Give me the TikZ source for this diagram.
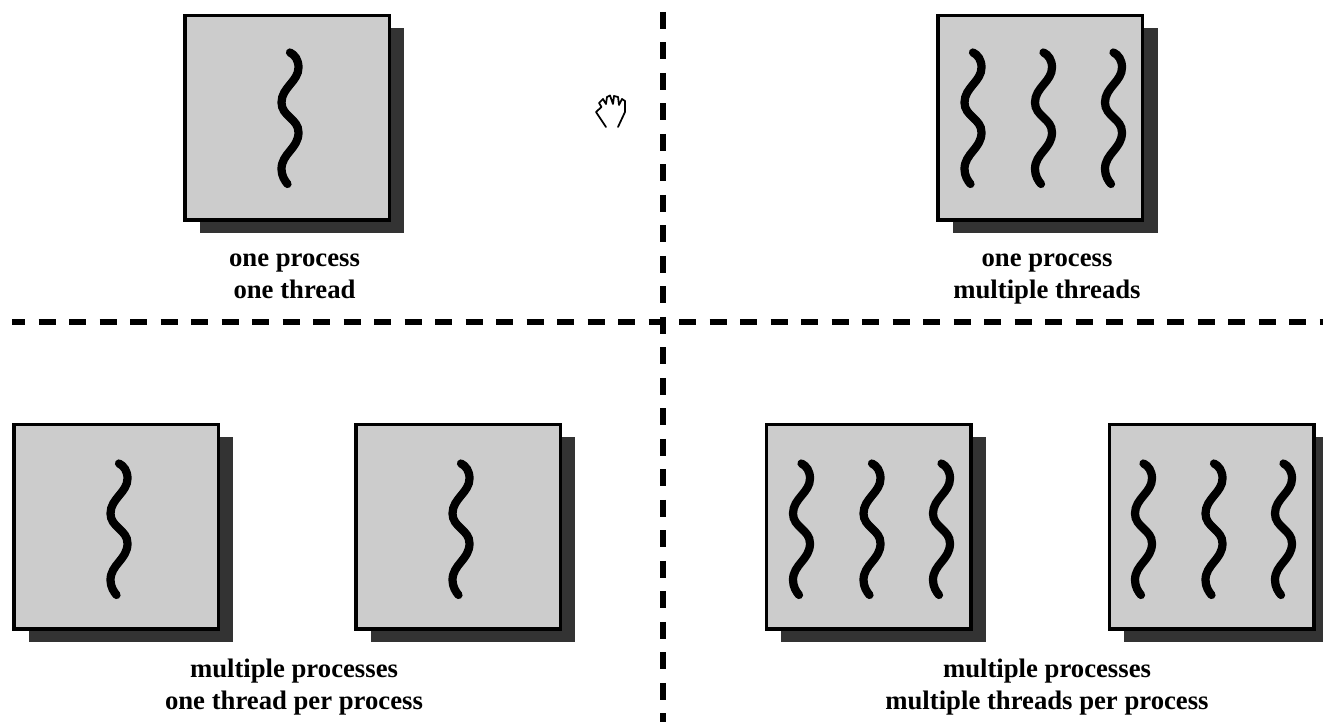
\documentclass[tikz,border=0pt]{standalone}
\usepackage{fontspec}
\setmainfont{Liberation Serif}
\usepackage{xcolor}
\usetikzlibrary{shadows}
\definecolor{boxgray}{HTML}{CCCCCC}
\definecolor{shadowgray}{HTML}{333333}
\tikzset{
  processbox/.style={draw=black,line width=0.07cm,fill=boxgray,minimum size=4.09cm,inner sep=0,
    drop shadow={shadow xshift=0.3cm,shadow yshift=-0.25cm,opacity=1,fill=shadowgray}},
  caption/.style={font=\fontsize{15.2}{18.2}\selectfont\bfseries,align=center},
  divider/.style={line width=0.11cm,dash pattern=on 0.34cm off 0.27cm},
  threadwave/.pic={
    \draw[line width=0.165cm,line cap=round] (0,1.3) .. controls (0.1,1.25) and (0.17,1.15) .. (0.17,1)
      .. controls (0.17,0.72) and (-0.17,0.6) .. (-0.17,0.3)
      .. controls (-0.17,0.02) and (0.17,-0.02) .. (0.17,-0.3)
      .. controls (0.17,-0.62) and (-0.17,-0.72) .. (-0.17,-1.03)
      .. controls (-0.17,-1.17) and (-0.1,-1.27) .. (-0.05,-1.33);
  }
}
\begin{document}
\begin{tikzpicture}
    \useasboundingbox (0,0) rectangle (26.46,14.44);
    \coordinate (hstart) at (0.24,8);
    \coordinate (hend) at (26.46,8);
    \coordinate (vstart) at (13.26,14.2);
    \coordinate (vend) at (13.26,0);
    \draw[divider,dash phase=0.08cm] (hstart) -- (hend);
    \draw[divider] (vstart) -- (vend);
    \node[processbox] (boxa) at (5.744,12.08) {};
    \node[processbox] (boxb) at (20.806,12.08) {};
    \node[processbox] (boxc) at (2.324,3.9) {};
    \node[processbox] (boxd) at (9.164,3.9) {};
    \node[processbox] (boxe) at (17.37,3.9) {};
    \node[processbox] (boxf) at (24.23,3.9) {};
    \pic at (5.8,12.09) {threadwave};
    \pic at (19.46,12.09) {threadwave};
    \pic at (20.87,12.09) {threadwave};
    \pic at (22.27,12.09) {threadwave};
    \pic at (2.38,3.87) {threadwave};
    \pic at (9.22,3.87) {threadwave};
    \pic at (16.03,3.87) {threadwave};
    \pic at (17.44,3.87) {threadwave};
    \pic at (18.83,3.87) {threadwave};
    \pic at (22.87,3.87) {threadwave};
    \pic at (24.28,3.87) {threadwave};
    \pic at (25.67,3.87) {threadwave};
    \node[caption] (capa) at (5.89,8.92) {one process\\one thread};
    \node[caption] (capb) at (20.94,8.86) {one process\\multiple threads};
    \node[caption] (capc) at (5.88,0.7) {multiple processes\\one thread per process};
    \node[caption] (capd) at (20.94,0.7) {multiple processes\\multiple threads per process};
    \draw[line width=0.035cm,line cap=round,line join=round]
      (12.12,11.9) -- (11.92,12.2) -- (12.03,12.3) -- (11.98,12.38) -- (12.06,12.46) -- (12.12,12.36)
      -- (12.14,12.5) -- (12.2,12.53) -- (12.26,12.36) -- (12.28,12.52) -- (12.36,12.5) -- (12.38,12.34)
      -- (12.44,12.46) -- (12.5,12.42) -- (12.5,12.2) -- (12.36,11.9);
  \end{tikzpicture}
\end{document}
